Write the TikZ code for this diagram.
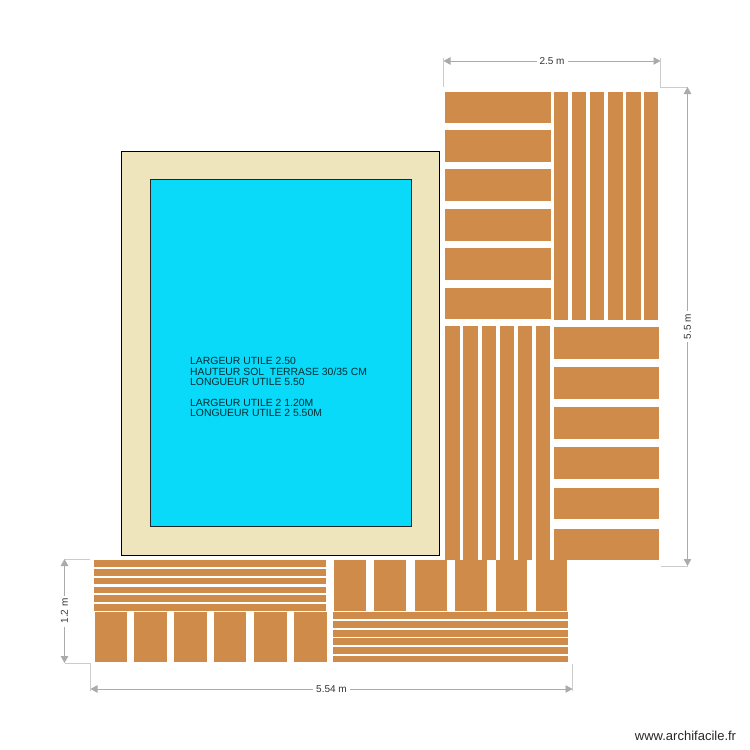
\documentclass[tikz,border=0pt]{standalone}
\usepackage{fontspec}
\setmainfont{Liberation Sans}
\usetikzlibrary{arrows.meta}
\definecolor{plankcol}{HTML}{CE8B4A}
\definecolor{copingcol}{HTML}{EFE5BD}
\definecolor{watercol}{HTML}{0ADAF9}
\definecolor{dimcol}{HTML}{ABABAB}
\definecolor{extcol}{HTML}{CCCCCC}
\definecolor{labelcol}{HTML}{333333}
\tikzset{
  plank/.style={fill=plankcol},
  dimline/.style={draw=dimcol, line width=0.9pt, {Triangle[length=7pt,width=7.5pt]}-{Triangle[length=7pt,width=7.5pt]}},
  extline/.style={draw=extcol, line width=0.8pt},
  dimlabel/.style={fill=white, text=labelcol, font=\fontsize{10}{12}\selectfont, inner sep=3pt}
}
\begin{document}
\begin{tikzpicture}[x=1pt, y=-1pt]
  \useasboundingbox (0, 0) rectangle (750, 750);
  % pool
  \draw[black, line width=1pt, fill=copingcol] (121, 151) rectangle (439.5, 555);
  \draw[black!85, line width=0.6pt, fill=watercol] (150, 179.5) rectangle (411, 526);
  \node[anchor=north west, align=left, inner sep=0pt, text=black!80!watercol,
        font=\fontsize{10.4}{10.35}\selectfont] (notes) at (190, 357.5)
    {LARGEUR UTILE 2.50\\
     HAUTEUR SOL\ \ TERRASE 30/35 CM\\
     LONGUEUR UTILE 5.50\\[10.35pt]
     LARGEUR UTILE 2 1.20M\\
     LONGUEUR UTILE 2 5.50M};
  % right terrace
  \foreach \ya/\yb in {91.7/123, 130.3/162, 169.3/201, 209/240.5, 248.3/280, 287.7/319}
    \fill[plank] (445, \ya) rectangle (550.8, \yb);
  \foreach \xa/\xb in {554/568.3, 572.3/586.3, 590.3/604.3, 608.3/622.7, 626.3/640.7, 644/658.3}
    \fill[plank] (\xa, 91.7) rectangle (\xb, 319.7);
  \foreach \xa/\xb in {445/459.7, 463.3/477.7, 481.7/496, 500/514, 518.3/532.3, 536/550.3}
    \fill[plank] (\xa, 326) rectangle (\xb, 560);
  \foreach \ya/\yb in {327/359, 367/398.7, 407.3/439, 447.3/479.3, 488/519.3, 528.7/560}
    \fill[plank] (554, \ya) rectangle (658.7, \yb);
  % bottom terrace
  \foreach \ya/\yb in {560/566.7, 569/575.7, 578/584.3, 586.7/593.3, 595.3/602, 604/611}
    \fill[plank] (94, \ya) rectangle (326, \yb);
  \foreach \xa/\xb in {95/127, 134.3/167, 174/206.7, 214/246.3, 254.3/286.7, 294/326.7}
    \fill[plank] (\xa, 612.3) rectangle (\xb, 661.7);
  \foreach \xa/\xb in {334/366.3, 374.3/406.3, 414.7/446.7, 455/486.7, 495.7/527.3, 535.7/567.3}
    \fill[plank] (\xa, 560) rectangle (\xb, 611);
  \foreach \ya/\yb in {612.3/619.3, 621.3/628, 630.3/636.7, 638.3/645.3, 647/654, 655.7/661.7}
    \fill[plank] (333, \ya) rectangle (567.7, \yb);
  % dimensions
  \coordinate (topa) at (443.5, 61);
  \coordinate (topb) at (660.5, 61);
  \coordinate (righta) at (687.5, 87);
  \coordinate (rightb) at (687.5, 566);
  \coordinate (lefta) at (64.5, 559);
  \coordinate (leftb) at (64.5, 663);
  \coordinate (bota) at (90.5, 689);
  \coordinate (botb) at (572.5, 689);
  \draw[extline] (443.5, 58) -- (443.5, 87);
  \draw[extline] (660.5, 58) -- (660.5, 87) -- (righta);
  \draw[extline] (660.5, 566) -- (rightb);
  \draw[extline] (lefta) -- (90, 559);
  \draw[extline] (leftb) -- (90.5, 663) -- (90.5, 691);
  \draw[extline] (572.5, 664) -- (572.5, 691);
  \draw[dimline] (topa) -- node[dimlabel] (toplabel) {2.5 m} (topb);
  \draw[dimline] (righta) -- node[dimlabel, rotate=90] (rightlabel) {5.5 m} (rightb);
  \draw[dimline] (lefta) -- node[dimlabel, rotate=90] (leftlabel) {1.2 m} (leftb);
  \draw[dimline] (bota) -- node[dimlabel] (botlabel) {5.54 m} (botb);
  \node[text=black!85, font=\fontsize{13}{15}\selectfont, inner sep=0pt] (site) at (685.5, 735.5) {www.archifacile.fr};
\end{tikzpicture}
\end{document}
